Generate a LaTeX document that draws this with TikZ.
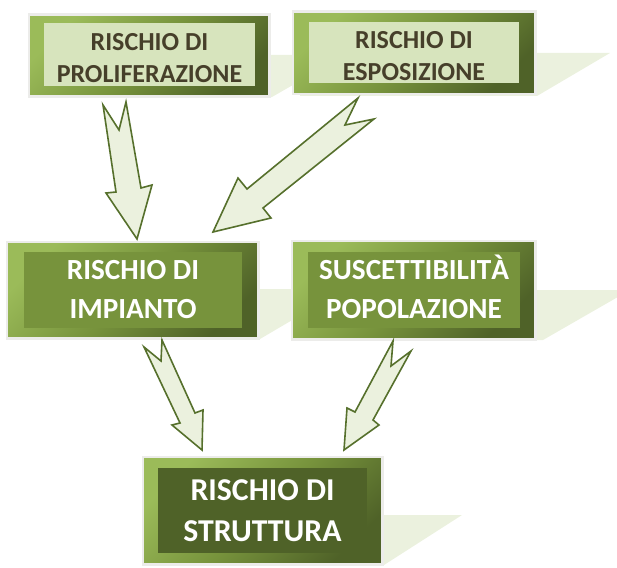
\documentclass[tikz,border=0pt]{standalone}
\usepackage{fontspec}
\setmainfont{Carlito}
\definecolor{glight}{HTML}{9BBB59}
\definecolor{gmid}{HTML}{77933C}
\definecolor{gdark}{HTML}{4F6228}
\definecolor{gpale}{HTML}{D7E4BD}
\definecolor{gshadow}{HTML}{EBF1DE}
\definecolor{gline}{HTML}{56702C}
\definecolor{gborder}{HTML}{ECECEA}
\definecolor{tbrown}{HTML}{463F2A}
\tikzset{
  outerbox/.style={draw=gborder, line width=2.5pt, inner sep=0pt,
    top color=glight, bottom color=gdark, middle color=gmid, shading angle=45},
  innerbox/.style={inner sep=0pt, align=center},
  palebox/.style={innerbox, fill=gpale},
  paletext/.style={innerbox, text=tbrown, font=\fontsize{26}{32}\selectfont\bfseries},
  midbox/.style={innerbox, fill=gmid, text=white, font=\fontsize{29.2}{39}\selectfont\bfseries},
  darkbox/.style={innerbox, fill=gdark, text=white, font=\fontsize{31.8}{41}\selectfont\bfseries},
  shadowshape/.style={fill=gshadow, draw=none},
  blockarrow/.style={fill=gshadow, draw=gline, line width=1.6pt, line join=miter},
}
\begin{document}
\begin{tikzpicture}[x=1pt, y=-1pt]
\clip (0,0) rectangle (617,567);
% shadows
\fill[shadowshape] (30,55) -- (345,55) -- (272,97) -- (30,97) -- cycle;
\fill[shadowshape] (300,53) -- (610,53) -- (537,96) -- (300,96) -- cycle;
\fill[shadowshape] (10,289) -- (345,289) -- (260,339) -- (10,339) -- cycle;
\fill[shadowshape] (300,290) -- (630,290) -- (543,340) -- (300,340) -- cycle;
\fill[shadowshape] (150,515) -- (462,515) -- (384,565) -- (150,565) -- cycle;
% boxes
\node[outerbox, minimum width=240.5pt, minimum height=81.5pt] (b1o) at (149,55.5) {};
\node[palebox, minimum width=211pt, minimum height=63pt] (b1) at (149.5,54.5) {};
\node[paletext, anchor=center] (t1) at ([yshift=-3.5pt]b1.center) {RISCHIO DI\\PROLIFERAZIONE};

\node[outerbox, minimum width=242.5pt, minimum height=82.5pt] (b2o) at (414,53) {};
\node[palebox, minimum width=210pt, minimum height=61pt] (b2) at (414,52.5) {};
\node[paletext, anchor=center] (t2) at ([yshift=-4pt]b2.center) {RISCHIO DI\\ESPOSIZIONE};

\node[outerbox, minimum width=251.5pt, minimum height=96.5pt] (b3o) at (132.5,290) {};
\node[midbox, minimum width=218pt, minimum height=76pt] (b3) at (133,290) {RISCHIO DI\\IMPIANTO};

\node[outerbox, minimum width=243.5pt, minimum height=98.5pt] (b4o) at (413.5,290) {};
\node[midbox, minimum width=212pt, minimum height=76pt] (b4) at (414,290) {SUSCETTIBILIT\smash{À}\\POPOLAZIONE};

\node[outerbox, minimum width=239.5pt, minimum height=107.5pt] (b5o) at (262.5,510.5) {};
\node[darkbox, minimum width=209pt, minimum height=85pt] (b5) at (262.5,510.5) {RISCHIO DI\\STRUTTURA};
% block arrows
\draw[blockarrow] (103,105) -- (119,130) -- (126,102) -- (141,188) -- (152,185) -- (137,239) -- (106,193) -- (116,192) -- cycle;
\draw[blockarrow] (358,98) -- (345,125) -- (374,119) -- (263,208) -- (271,218) -- (213,232) -- (238,178) -- (247,189) -- cycle;
\draw[blockarrow] (144,347) -- (161,361) -- (162,340) -- (195,413) -- (203,410) -- (202,450) -- (172,425) -- (180,423) -- cycle;
\draw[blockarrow] (393,341) -- (391,366) -- (411,351) -- (373,420) -- (379,425) -- (344,450) -- (347,408) -- (355,412) -- cycle;
\end{tikzpicture}
\end{document}
